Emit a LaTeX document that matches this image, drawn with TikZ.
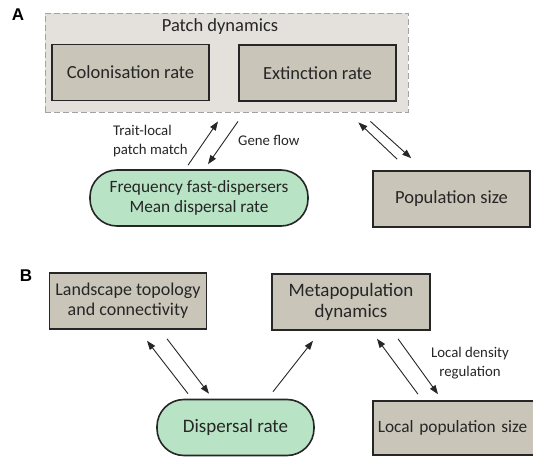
\documentclass[tikz,border=0pt]{standalone}
\usepackage{fontspec}
\setmainfont{Carlito}
\newfontfamily\panelfont{Liberation Sans}
\usetikzlibrary{calc,arrows.meta,positioning}
\definecolor{boxgrey}{HTML}{C9C5B9}
\definecolor{patchgrey}{HTML}{E4E0DB}
\definecolor{dashgrey}{HTML}{A3A3A3}
\definecolor{dispgreen}{HTML}{B8E3C5}
\definecolor{inkgrey}{HTML}{262626}
\tikzset{
  varbox/.style={draw=inkgrey,line width=1.6pt,fill=boxgrey,text=inkgrey,
    minimum width=157pt,minimum height=56pt,inner sep=0pt,align=center,
    font=\fontsize{18.5}{20}\selectfont},
  traitbox/.style={draw=inkgrey,line width=1.6pt,fill=dispgreen,text=inkgrey,
    rounded corners=27pt,minimum height=56pt,inner sep=0pt,align=center},
  effect/.style={draw=inkgrey,line width=0.9pt,-{Triangle[length=9pt,width=6.5pt]}},
  note/.style={text=inkgrey,inner sep=0pt,font=\fontsize{14.8}{18.5}\selectfont},
  panel/.style={inner sep=0pt,font=\panelfont\bfseries\fontsize{17}{17}\selectfont}
}

\begin{document}
\begin{tikzpicture}[x=1pt,y=-1pt]
\useasboundingbox (0,0) rectangle (533,457);
\clip (0,0) rectangle (533,457);

\node[panel] (labA) at (18,15) {A};
\node[draw=dashgrey,dash pattern=on 6pt off 3pt,line width=0.9pt,fill=patchgrey,
  minimum width=363pt,minimum height=99pt] (patch) at (226.5,62.5) {};
\node[text=inkgrey,inner sep=0pt,font=\fontsize{18.5}{20}\selectfont] (patchtitle) at (220,27) {Patch dynamics};
\node[varbox] (col) at (130.5,72.5) {Colonisation rate};
\node[varbox] (ext) at (317.5,73) {Extinction rate};
\node[traitbox,minimum width=218pt,font=\fontsize{17.3}{20}\selectfont] (freq) at (199,198)
  {Frequency fast-dispersers\\Mean dispersal rate};
\node[varbox] (pop) at (451.5,199) {Population size};

\draw[effect] ($(freq.north)+(-11,-4)$) -- ($(patch.south)+(-8.5,9)$);
\draw[effect] ($(patch.south)+(11.5,9)$) -- ($(freq.north)+(9,-5)$);
\draw[effect] ($(pop.north west)+(25,-11)$) -- ($(patch.south east)+(-50,10)$);
\draw[effect] ($(patch.south east)+(-38,9)$) -- ($(pop.north west)+(39,-12)$);
\node[note,anchor=west,align=left] (match) at (113,141) {Trait-local\\patch match};
\node[note,anchor=west] (geneflow) at (238,140) {Gene flow};

\node[panel] (labB) at (26,276) {B};
\node[varbox,font=\fontsize{18}{20}\selectfont] (land) at (128,301) {Landscape topology\\and connectivity};
\node[varbox,minimum width=158pt,font=\fontsize{19}{21}\selectfont] (meta) at (351,302) {Metapopulation\\dynamics};
\node[traitbox,minimum width=157pt,font=\fontsize{19}{20}\selectfont] (disp) at (235.5,427.5) {Dispersal rate};
\node[varbox,anchor=west,minimum height=54pt,text width=165pt,inner xsep=5pt,align=left,
  font=\fontsize{17.3}{20}\selectfont] (loc) at (372,428) {Local population size};

\draw[effect] ($(disp.north)+(-47.5,-5)$) -- ($(land.south)+(19,11)$);
\draw[effect] ($(land.south)+(39,9)$) -- ($(disp.north)+(-26.5,-5)$);
\draw[effect] ($(disp.north)+(37.5,-7)$) -- ($(meta.south)+(-38,10)$);
\draw[effect] ($(loc.north west)+(46,-6)$) -- ($(meta.south)+(26,8)$);
\draw[effect] ($(meta.south)+(47,8)$) -- ($(loc.north west)+(66,-6)$);
\node[note,align=center] (density) at (470,363) {Local density\\regulation};
\end{tikzpicture}
\end{document}
